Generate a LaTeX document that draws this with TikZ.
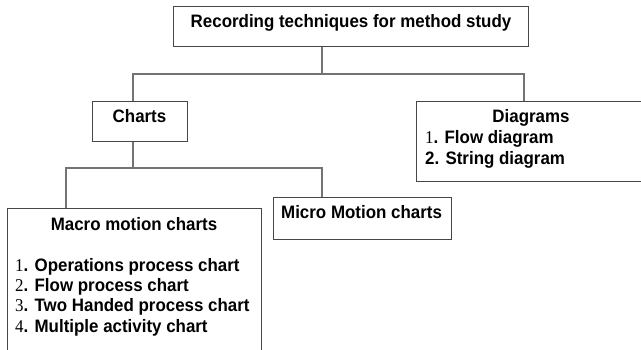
\documentclass[tikz,border=0pt]{standalone}
\usepackage{fontspec}
\setmainfont{Liberation Sans}[FakeStretch=0.94]
\newfontfamily\numfont{Liberation Serif}[FakeStretch=0.94]
\begin{document}
\begin{tikzpicture}[x=1pt,y=-1pt,
  box/.style={draw=black!72,line width=1.2pt,rectangle,inner sep=0pt,anchor=north west},
  conn/.style={draw=black!55,line width=1.2pt},
  lbl/.style={inner sep=0pt,anchor=base,font=\fontsize{18}{20}\selectfont\bfseries},
  item/.style={inner sep=0pt,anchor=base west,font=\fontsize{18}{20}\selectfont\bfseries}]
\useasboundingbox (0,0) rectangle (641,349);
\clip (0,0) rectangle (641,349);
% boxes
\node[box,minimum width=355pt,minimum height=40pt] (top) at (173,6) {};
\node[box,minimum width=95pt,minimum height=40pt] (charts) at (92,101) {};
\node[box,minimum width=232pt,minimum height=80pt] (diag) at (416,101) {};
\node[box,minimum width=254pt,minimum height=160pt] (macro) at (7,208) {};
\node[box,minimum width=178pt,minimum height=42pt] (micro) at (273,197) {};
% texts
\node[lbl] (ttop) at (351,27) {Recording techniques for method study};
\node[lbl] (tcharts) at (139.5,122) {Charts};
\node[lbl] (tdiag) at (531,122) {Diagrams};
\node[item] (d1) at (425,143) {{\numfont\mdseries 1}. Flow diagram};
\node[item] (d2) at (425,164) {2. String diagram};
\node[lbl] (tmacro) at (134,230) {Macro motion charts};
\node[item] (m1) at (15,271) {{\numfont\mdseries 1}. Operations process chart};
\node[item] (m2) at (15,291) {{\numfont\mdseries 2}. Flow process chart};
\node[item] (m3) at (15,311) {{\numfont\mdseries 3}. Two Handed process chart};
\node[item] (m4) at (15,332) {{\numfont\mdseries 4}. Multiple activity chart};
\node[item] (tmicro) at (281,218) {Micro Motion charts};
% connectors
\coordinate (j1) at (322,74);
\coordinate (j2) at (133,168);
\draw[conn] (top.south -| j1) -- (j1);
\draw[conn] (charts.north -| 133,0) |- (j1) -| (diag.north -| 524,0);
\draw[conn] (charts.south -| j2) -- (j2);
\draw[conn] (macro.north -| 66,0) |- (j2) -| (micro.north -| 322,0);
\end{tikzpicture}
\end{document}
